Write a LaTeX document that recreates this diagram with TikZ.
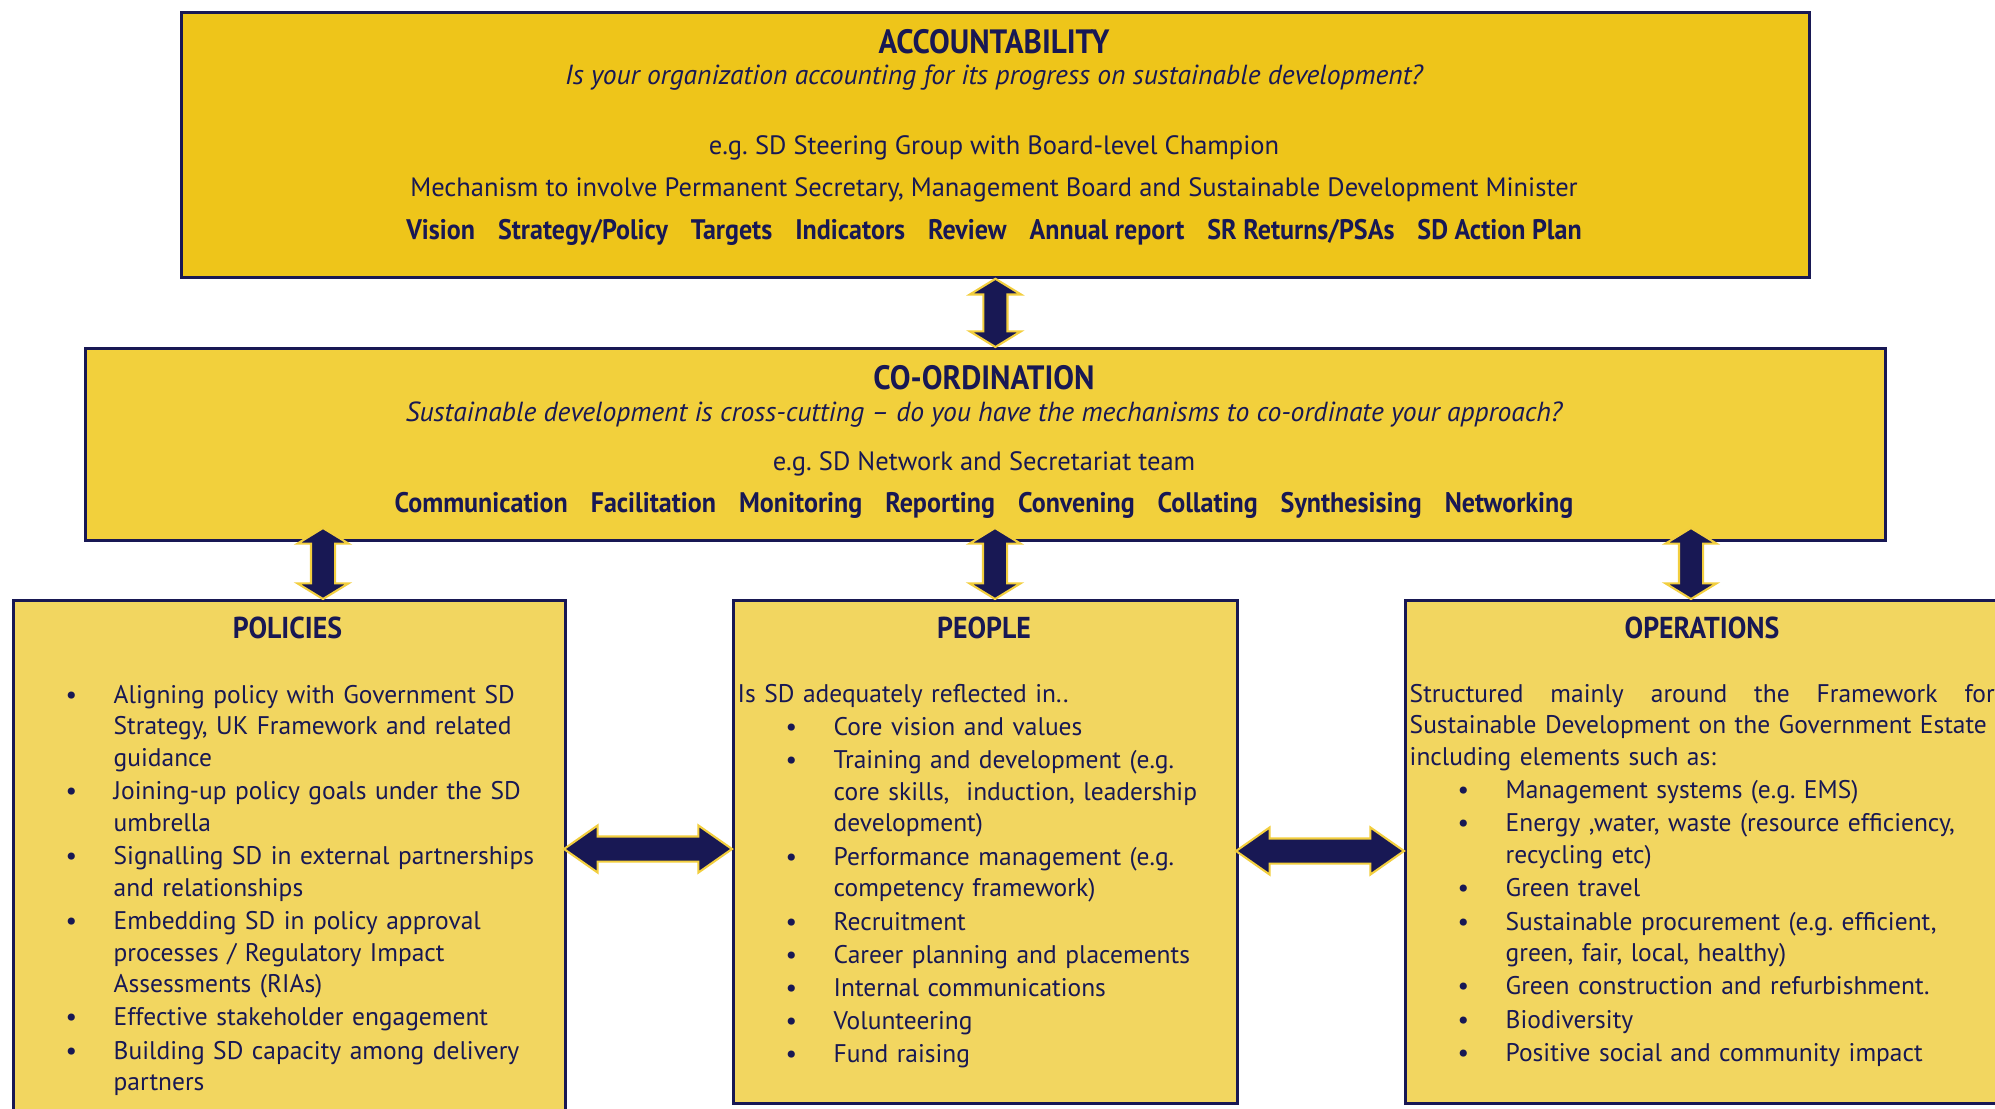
\documentclass[tikz,border=0pt]{standalone}
\usepackage{fontspec}
\setmainfont{PT Sans}
\newfontfamily\headfont{PT Sans}[FakeStretch=0.92]
\usetikzlibrary{calc,shapes.arrows}
\frenchspacing

\definecolor{sdnavy}{RGB}{24,24,84}
\definecolor{accfill}{RGB}{238,197,26}
\definecolor{cofill}{RGB}{242,208,60}
\definecolor{tierfill}{RGB}{242,214,96}
\definecolor{arrowedge}{RGB}{242,206,62}

% gap between the keywords of a tier
\newcommand{\kwgap}{\hspace{2.3mm}}
% one bullet point, hanging indent
\newcommand{\bitem}[1]{\hangindent=9.6mm\hangafter=1\noindent\makebox[9.6mm][l]{\hspace{4.8mm}\textbullet}#1\par}
% fat double arrow between two points
\newcommand{\tierlink}[4][vlink]{%
  \path let \p1=($(#4)-(#3)$) in node[#1, minimum height={veclen(\x1,\y1)}, rotate={atan2(\y1,\x1)}] (#2) at ($(#3)!0.5!(#4)$) {};}

\tikzset{
  panel/.style={draw=sdnavy, line width=0.8pt, anchor=north west, inner sep=0pt},
  heading/.style={anchor=base, inner sep=0pt, text=sdnavy, font=\headfont\bfseries\fontsize{9.6}{11}\selectfont},
  subheading/.style={heading, font=\headfont\bfseries\fontsize{8.6}{10}\selectfont},
  question/.style={anchor=base, inner sep=0pt, text=sdnavy, font=\itshape\fontsize{7.85}{9}\selectfont},
  plain/.style={anchor=base, inner sep=0pt, text=sdnavy, font=\fontsize{7.55}{9}\selectfont},
  keywords/.style={anchor=base, inner sep=0pt, text=sdnavy, font=\headfont\bfseries\fontsize{8.05}{9}\selectfont},
  body/.style={anchor=base west, inner sep=0pt, text=sdnavy, font=\fontsize{7.25}{9}\selectfont},
  vlink/.style={double arrow, fill=sdnavy, draw=arrowedge, line width=0.6pt, inner xsep=0pt, inner ysep=0.11cm,
    minimum width=0pt, double arrow head extend=0.135cm, double arrow tip angle=117, double arrow head indent=0pt},
  hlink/.style={vlink, inner ysep=0.115cm, double arrow head extend=0.11cm, double arrow tip angle=70}
}

\begin{document}
\begin{tikzpicture}[line cap=butt]
\useasboundingbox (0,0) rectangle (19.95,-11.09);
\clip (0,0) rectangle (19.95,-11.09);

% tiers
\node[panel, fill=accfill, minimum width=16.28cm, minimum height=2.65cm] (acc) at (1.80,-0.11) {};
\node[panel, fill=cofill, minimum width=18.00cm, minimum height=1.92cm] (co) at (0.84,-3.47) {};
\node[panel, fill=tierfill, minimum width=5.52cm, minimum height=5.60cm] (po) at (0.12,-5.99) {};
\node[panel, fill=tierfill, minimum width=5.04cm, minimum height=5.03cm] (pe) at (7.32,-5.99) {};
\node[panel, fill=tierfill, minimum width=6.30cm, minimum height=5.03cm] (op) at (14.04,-5.99) {};

% accountability
\node[heading] (acct) at (9.94,-0.533) {ACCOUNTABILITY};
\node[question] (accq) at (9.94,-0.85) {Is your organization accounting for its progress on sustainable development?};
\node[plain] (acce) at (9.94,-1.55) {e.g. SD Steering Group with Board-level Champion};
\node[plain] (accm) at (9.94,-1.967) {Mechanism to involve Permanent Secretary, Management Board and Sustainable Development Minister};
\node[keywords] (acck) at (9.94,-2.40) {Vision\kwgap Strategy/Policy\kwgap Targets\kwgap Indicators\kwgap Review\kwgap Annual report\kwgap SR Returns/PSAs\kwgap SD Action Plan};

% co-ordination
\node[heading] (cot) at (9.84,-3.893) {CO-ORDINATION};
\node[question] (coq) at (9.84,-4.217) {Sustainable development is cross-cutting – do you have the mechanisms to co-ordinate your approach?};
\node[plain] (coe) at (9.84,-4.70) {e.g. SD Network and Secretariat team};
\node[keywords] (cok) at (9.84,-5.127) {Communication\kwgap Facilitation\kwgap Monitoring\kwgap Reporting\kwgap Convening\kwgap Collating\kwgap Synthesising\kwgap Networking};

% policies
\node[subheading] (pot) at (2.875,-6.383) {POLICIES};
\node[body, text width=5.3cm] (pob) at (0.17,-7.033) {%
\setlength\parskip{0.45pt}%
\bitem{Aligning policy with Government SD\newline Strategy, UK Framework and related\newline guidance}
\bitem{Joining-up policy goals under the SD\newline umbrella}
\bitem{Signalling SD in external partnerships\newline and relationships}
\bitem{Embedding SD in policy approval\newline processes / Regulatory Impact\newline Assessments (RIAs)}
\bitem{Effective stakeholder engagement}
\bitem{Building SD capacity among delivery\newline partners}};

% people
\node[subheading] (pet) at (9.84,-6.383) {PEOPLE};
\node[body, text width=4.95cm] (peb) at (7.37,-7.023) {%
\setlength\parskip{0.45pt}%
Is SD adequately reflected in..\par
\bitem{Core vision and values}
\bitem{Training and development (e.g.\newline core skills,\ \ induction, leadership\newline development)}
\bitem{Performance management (e.g.\newline competency framework)}
\bitem{Recruitment}
\bitem{Career planning and placements}
\bitem{Internal communications}
\bitem{Volunteering}
\bitem{Fund raising}};

% operations
\node[subheading] (opt) at (17.02,-6.383) {OPERATIONS};
\node[body, text width=6.3cm] (opb) at (14.09,-7.023) {%
\setlength\parskip{0.45pt}%
\hbox to 5.85cm{Structured\hfill mainly\hfill around\hfill the\hfill Framework\hfill for}\newline
Sustainable Development on the Government Estate\newline
including elements such as:\par
\bitem{Management systems (e.g. EMS)}
\bitem{Energy ,water, waste (resource efficiency,\newline recycling etc)}
\bitem{Green travel}
\bitem{Sustainable procurement (e.g. efficient,\newline green, fair, local, healthy)}
\bitem{Green construction and refurbishment.}
\bitem{Biodiversity}
\bitem{Positive social and community impact}};

% links between the tiers
\coordinate (lpo) at (3.23,-5.28);
\coordinate (lpe) at (9.95,-5.28);
\coordinate (lop) at (16.91,-5.28);
\coordinate (hpo) at (5.64,-8.49);
\coordinate (hop) at (12.36,-8.51);
\tierlink{a1}{acc.south}{acc.south |- co.north}
\tierlink{a2}{lpo}{lpo |- po.north}
\tierlink{a3}{lpe}{lpe |- pe.north}
\tierlink{a4}{lop}{lop |- op.north}
\tierlink[hlink]{a5}{hpo}{hpo -| pe.west}
\tierlink[hlink]{a6}{hop}{hop -| op.west}
\end{tikzpicture}
\end{document}
